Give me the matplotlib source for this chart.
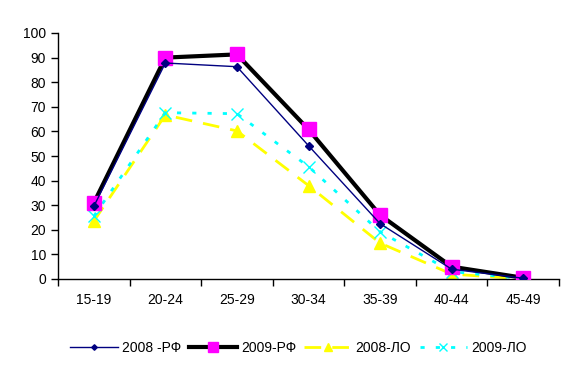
import numpy as np
import matplotlib.pyplot as plt

plt.rcParams['font.family'] = ['Liberation Sans', 'DejaVu Sans']

# Data
ages = ['15-19', '20-24', '25-29', '30-34', '35-39', '40-44', '45-49']
rf_2008 = [29.5, 87.8, 86.3, 54.2, 22.5, 4.0, 0.3]
rf_2009 = [30.9, 90.0, 91.3, 60.8, 26.0, 5.0, 0.5]
lo_2008 = [23.5, 66.7, 60.2, 38.0, 14.6, 2.0, 0.0]
lo_2009 = [25.5, 67.6, 67.2, 45.7, 19.2, 3.0, 0.2]

fig = plt.figure(figsize=(5.78, 3.71), dpi=100)
ax = fig.add_axes([58/578, 92/371, 501/578, 246/371])

x = np.arange(len(ages))

ax.plot(x, rf_2008, color='#000080', lw=1, marker='D', ms=4,
        mfc='#000080', mec='#000080', label='2008 -РФ', zorder=4)
ax.plot(x, rf_2009, color='black', lw=3, marker='s', ms=10,
        mfc='#FF00FF', mec='#FF00FF', label='2009-РФ', zorder=3)
ax.plot(x, lo_2008, color='#FFFF00', lw=2, ls=(0, (6, 4)), marker='^', ms=9,
        mfc='#FFFF00', mec='#FFFF00', label='2008-ЛО', zorder=2)
ax.plot(x, lo_2009, color='#00FFFF', lw=2, ls=(0, (1.5, 4)), marker='x', ms=9,
        mew=1, mfc='#00FFFF', mec='#00FFFF', label='2009-ЛО', zorder=2)

ax.set_xlim(-0.5, len(ages) - 0.5)
ax.set_ylim(0, 100)
ax.set_yticks(np.arange(0, 101, 10))
ax.set_xticks(x)
ax.set_xticklabels(ages)
ax.set_xticks(np.arange(-0.5, len(ages), 1), minor=True)
ax.tick_params(axis='x', which='major', length=0, pad=10, labelsize=10)
ax.tick_params(axis='x', which='minor', length=5, width=1)
ax.tick_params(axis='y', length=5, width=1, labelsize=10)

for s in ['top', 'right']:
    ax.spines[s].set_visible(False)
for s in ['left', 'bottom']:
    ax.spines[s].set_linewidth(1)

ax.legend(loc='upper center', bbox_to_anchor=(0.48, -0.2), ncol=4,
          frameon=False, fontsize=10, handlelength=3.4, handletextpad=0.3,
          columnspacing=0.6, markerscale=0.7)

fig.savefig('out.png', dpi=100)
